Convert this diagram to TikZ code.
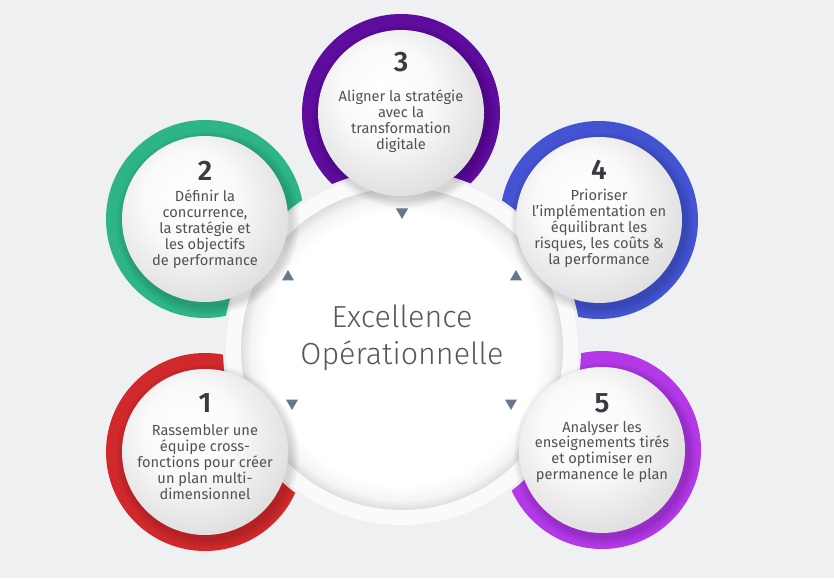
\documentclass[tikz,border=0pt]{standalone}
\usepackage{fontspec}
\setmainfont{Fira Sans}
\newfontfamily\thinfont{Fira Sans Light}
\newfontfamily\numfont{Fira Sans SemiBold}
\usetikzlibrary{shapes.geometric,calc}
\definecolor{bg}{HTML}{EFF0F2}
\definecolor{ringred}{HTML}{D0282B}
\definecolor{ringgreen}{HTML}{2EB585}
\definecolor{ringviolet}{HTML}{5E0C9E}
\definecolor{ringblue}{HTML}{4353D2}
\definecolor{ringpink}{HTML}{B238E8}
\definecolor{txtgray}{HTML}{4F5257}
\definecolor{numgray}{HTML}{383C42}
\definecolor{hubgray}{HTML}{55585D}
\definecolor{arrowgray}{HTML}{67788A}
\pgfdeclareradialshading{diskshade}{\pgfpoint{-6bp}{8bp}}{color(0bp)=(white); color(14bp)=(white!98!black); color(32bp)=(white!86!black); color(60bp)=(white!86!black)}
\pgfdeclareradialshading{hubshade}{\pgfpoint{0bp}{0bp}}{color(0bp)=(white); color(21bp)=(white); color(23.5bp)=(white!96!black); color(25bp)=(white!87!black); color(50bp)=(white!87!black)}

\begin{document}
\begin{tikzpicture}[x=0.03cm, y=0.03cm,
  disk/.style={circle, minimum size=4.98cm, shading=diskshade},
  ring/.style={line width=0.54cm},
  num/.style={font=\numfont\fontsize{24}{24}\selectfont, text=numgray},
  lbl/.style={align=center, font=\fontsize{12.5}{13.6}\selectfont, text=txtgray},
  tri/.style={regular polygon, regular polygon sides=3, fill=arrowgray, minimum size=0.42cm},
  hub/.style={circle, minimum size=9.66cm, shading=hubshade},
  hubtext/.style={align=center, text=hubgray, font=\thinfont\fontsize{26}{31.5}\selectfont}]
\tikzstyle{every node}+=[inner sep=0pt]
\fill [bg] (0,0) rectangle (834,578);
\useasboundingbox (0,0) rectangle (834,578);

\coordinate (c) at (402,229);
\coordinate (c1) at (205,126);
\coordinate (c2) at (205,359);
\coordinate (c3) at (401,465);
\coordinate (c4) at (599,358);
\coordinate (c5) at (602,128);

\draw [ring, ringred] (c1) circle (90);
\draw [ring, ringgreen] (c2) circle (90);
\draw [ring, ringviolet] (c3) circle (90);
\draw [ring, ringblue] (c4) circle (90);
\draw [ring, ringpink] (c5) circle (90);

\fill [bg] (c) circle (179);
\fill [white!98!black] (c) circle (176);
\node [hub] (hub) at (c) {};
\node [hubtext] (title) at ($(hub)+(0,11)$) {Excellence\\Opérationnelle};

\node [tri, rotate=180] (t3) at (402,366) {};
\node [tri] (t2) at (288,301) {};
\node [tri] (t4) at (516,301) {};
\node [tri, rotate=180] (t1) at (292,175) {};
\node [tri, rotate=180] (t5) at (511,175) {};

\foreach \p in {c1,c2,c3,c4,c5}
  \foreach \k in {1,...,6}
    \fill [black, opacity=0.025] ($(\p)+(3,-4)$) circle (83+\k*1.4);

\node [disk] (s1) at (c1) {};
\node [disk] (s2) at (c2) {};
\node [disk] (s3) at (c3) {};
\node [disk] (s4) at (c4) {};
\node [disk] (s5) at (c5) {};

\node [num] (n1) at ($(s1)+(0,49)$) {1};
\node [num] (n2) at ($(s2)+(0,48)$) {2};
\node [num] (n3) at ($(s3)+(0,51)$) {3};
\node [num] (n4) at ($(s4)+(0,50)$) {4};
\node [num] (n5) at ($(s5)+(0,47)$) {5};

\node [lbl] (l1) at ($(s1)+(0,-10)$) {Rassembler une\\équipe cross-\\fonctions pour créer\\un plan multi-\\dimensionnel};
\node [lbl] (l2) at ($(s2)+(0,-10)$) {Définir la\\concurrence,\\la stratégie et\\les objectifs\\de performance};
\node [lbl] (l3) at ($(s3)+(0,-8)$) {Aligner la stratégie\\avec la\\transformation\\digitale};
\node [lbl] (l4) at ($(s4)+(0,-8)$) {Prioriser\\l’implémentation en\\équilibrant les\\risques, les coûts \&\\la performance};
\node [lbl] (l5) at ($(s5)+(0,-2)$) {Analyser les\\enseignements tirés\\et optimiser en\\permanence le plan};
\end{tikzpicture}
\end{document}
